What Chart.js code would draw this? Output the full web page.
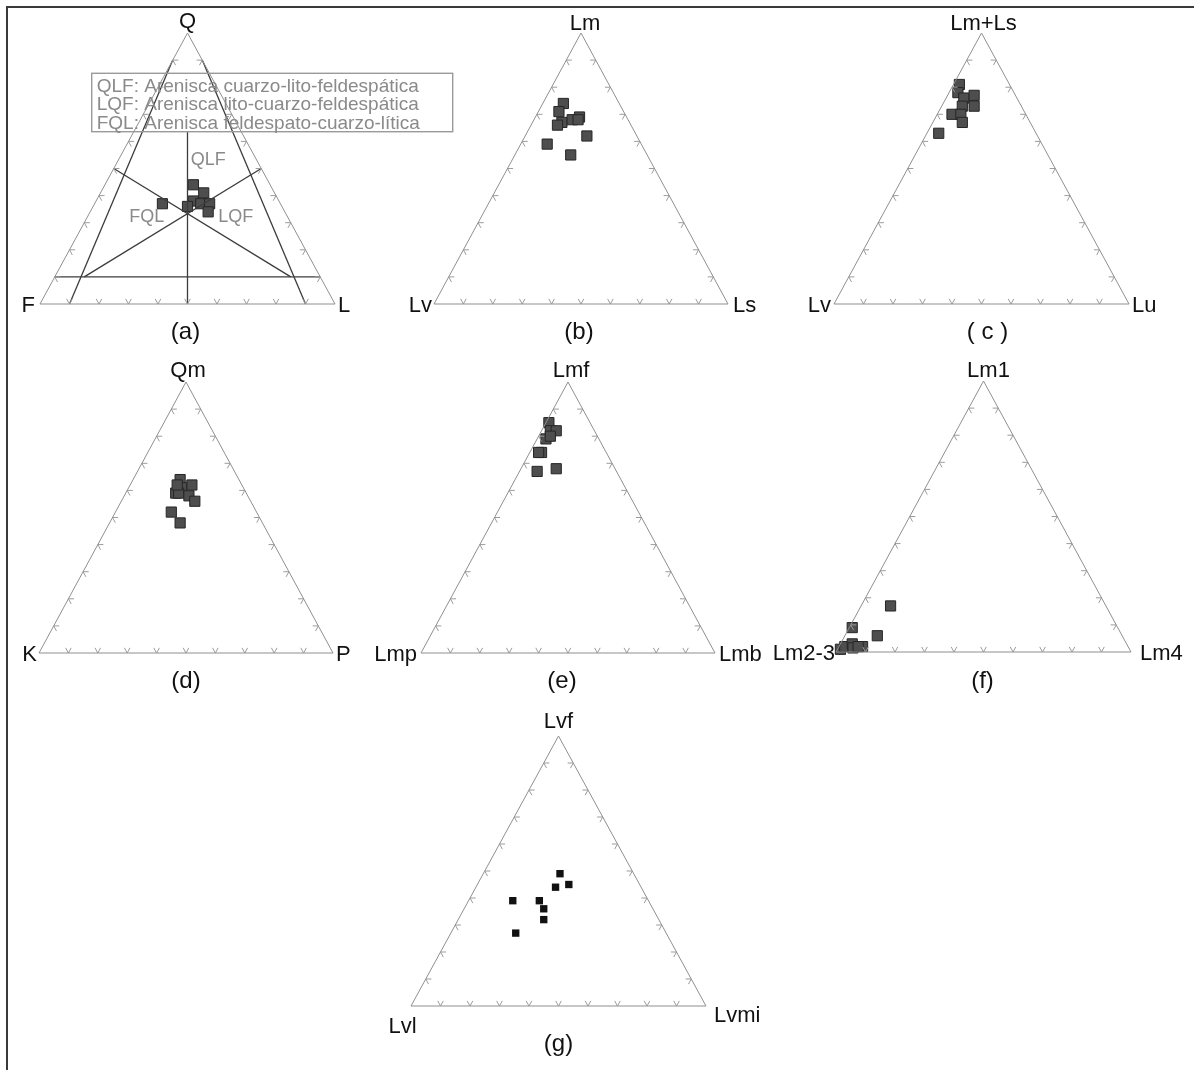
<!DOCTYPE html>
<html>
<head>
<meta charset="utf-8">
<title>Diagramas ternarios de composición</title>
<script src="https://cdn.jsdelivr.net/npm/chart.js@4.4.1/dist/chart.umd.min.js"></script>
<style>
  html, body { margin: 0; padding: 0; background: #fff; width: 1194px; height: 1070px; overflow: hidden; position: relative; }
  .frame { position: absolute; left: 6px; top: 6px; width: 1300px; height: 1200px; border: 2px solid #3a3a3a; }
  canvas { position: absolute; }
</style>
</head>
<body>
<div class="frame"></div>
<script>
// ---- Composiciones (%) : [vértice superior, vértice izquierdo, vértice derecho] ----

// (a) Q - F - L
const qflQ = [44, 41, 38, 36, 37, 37, 34, 37];
const qflF = [26, 24, 29, 32, 27, 24, 26, 40];
const qflL = [30, 35, 33, 32, 36, 39, 40, 23];

// (b) Lm - Lv - Ls
const lmLm = [74, 71, 67, 66, 68, 69, 68, 62, 59, 55];
const lmLv = [19, 22, 23, 25, 19, 16, 17, 17, 32, 26];
const lmLs = [7, 7, 10, 9, 13, 15, 15, 21, 9, 19];

// (c) Lm+Ls - Lv - Lu
const luLmLs = [81, 78, 76, 77, 73, 73, 70, 70, 67, 63];
const luLv   = [17, 19, 18, 14, 20, 16, 25, 22, 23, 33];
const luLu   = [2, 3, 6, 9, 7, 11, 5, 8, 10, 4];

// (d) Qm - K - P
const qmQm = [64, 62, 61, 59, 59, 58, 56, 52, 48, 62];
const qmK  = [20, 17, 21, 24, 23, 20, 19, 29, 28, 22];
const qmP  = [16, 21, 18, 17, 18, 22, 25, 19, 24, 16];

// (e) Lmf - Lmp - Lmb
const lmfLmf = [85, 82, 82, 79, 80, 74, 67, 68, 74];
const lmfLmp = [14, 15, 13, 18, 16, 22, 27, 20, 23];
const lmfLmb = [1, 3, 5, 3, 4, 4, 6, 12, 3];

// (f) Lm1 - Lm2-3 - Lm4
const lm1Lm1  = [17, 9, 6, 1, 2, 3, 1.5, 2, 2];
const lm1Lm23 = [73, 90, 83, 98, 96, 93, 93.5, 90, 91.5];
const lm1Lm4  = [10, 1, 11, 1, 2, 4, 5, 8, 6.5];

// (g) Lvf - Lvl - Lvmi
const lvfLvf  = [49, 45, 44, 39, 39, 36, 32, 27];
const lvfLvl  = [25, 24, 29, 46, 37, 37, 39, 51];
const lvfLvmi = [26, 31, 27, 15, 24, 27, 29, 22];

// Divisiones de los lados (%)
const sideTicks = [10, 20, 30, 40, 50, 60, 70, 80, 90];

// Campos de clasificación QFL: segmentos [Q, F, L] -> [Q, F, L]
const fieldLines = [
  [[90, 10, 0], [0, 90, 10]],
  [[90, 0, 10], [0, 10, 90]],
  [[10, 90, 0], [10, 0, 90]],
  [[63.5, 18.25, 18.25], [0, 50, 50]],
  [[50, 50, 0], [10, 10, 80]],
  [[50, 0, 50], [10, 80, 10]]
];
const fieldNames = ['QLF', 'FQL', 'LQF'];
const fieldNamePos = [[53, 16.5, 30.5], [32.1, 47.8, 20.1], [32.1, 17.6, 50.3]];
const legendLines = [
  'QLF: Arenisca cuarzo-lito-feldespática',
  'LQF: Arenisca lito-cuarzo-feldespática',
  'FQL: Arenisca feldespato-cuarzo-lítica'
];

// ---- Utilidades ----
const FONT = '"Liberation Sans", Arial, Helvetica, sans-serif';

// composición (sup, izq, der) -> coordenadas cartesianas del triángulo unidad
function toXY(t, l, r) {
  const s = t + l + r;
  return { x: (r + t / 2) / s, y: t / s };
}
function pointsOf(top, left, right) {
  return top.map((t, i) => toXY(t, left[i], right[i]));
}
function outline() {
  return [toXY(0, 100, 0), toXY(0, 0, 100), toXY(100, 0, 0), toXY(0, 100, 0)];
}
// marcas de división: dos trazos cortos de las líneas de la red que entran al triángulo
function tickMarks() {
  const d = 1.9, out = [], gap = { x: null, y: null };
  sideTicks.forEach(k => {
    out.push(toXY(d, 100 - k, k - d), toXY(0, 100 - k, k), toXY(d, 100 - k - d, k), gap);
    out.push(toXY(k, 100 - k - d, d), toXY(k, 100 - k, 0), toXY(k - d, 100 - k, d), gap);
    out.push(toXY(k, d, 100 - k - d), toXY(k, 0, 100 - k), toXY(k - d, d, 100 - k), gap);
  });
  return out;
}

// Textos y recuadros de cada diagrama, anclados a sus escalas
const panelText = new Map();

const ternaryText = {
  id: 'ternaryText',
  afterDatasetsDraw(chart) {
    const spec = panelText.get(chart.canvas);
    if (!spec) return;
    const { ctx, chartArea } = chart;
    const xs = chart.scales.x, ys = chart.scales.y;
    ctx.save();
    spec.boxes.forEach(b => {
      ctx.strokeStyle = b.color;
      ctx.lineWidth = b.width;
      ctx.strokeRect(chartArea.left + b.dx, chartArea.top + b.dy, b.w, b.h);
    });
    spec.items.forEach(it => {
      let px, py;
      if (it.at) {
        const p = toXY(it.at[0], it.at[1], it.at[2]);
        px = xs.getPixelForValue(p.x);
        py = ys.getPixelForValue(p.y);
      } else {
        px = chartArea.left;
        py = chartArea.top;
      }
      ctx.font = it.font;
      ctx.fillStyle = it.color;
      ctx.textAlign = it.align || 'center';
      ctx.textBaseline = it.baseline || 'alphabetic';
      ctx.fillText(it.text, px + (it.dx || 0), py + (it.dy || 0));
    });
    ctx.restore();
  }
};
Chart.register(ternaryText);

const VERTEX_FONT = '22px ' + FONT;
const TAG_FONT = '24px ' + FONT;
const GREY_TEXT = '#8a8a8a';

function vertexItems(names, tag, off) {
  return [
    { text: names[0], at: [100, 0, 0], dx: off.top[0], dy: off.top[1], font: VERTEX_FONT, color: '#111', align: 'center' },
    { text: names[1], at: [0, 100, 0], dx: off.left[0], dy: off.left[1], font: VERTEX_FONT, color: '#111', align: off.left[2] || 'right' },
    { text: names[2], at: [0, 0, 100], dx: off.right[0], dy: off.right[1], font: VERTEX_FONT, color: '#111', align: 'left' },
    { text: tag, at: [0, 50, 50], dx: off.tag[0], dy: off.tag[1], font: TAG_FONT, color: '#111', align: 'center' }
  ];
}

function makePanel(p) {
  const pad = p.pad;
  const W = p.box.w + pad.l + pad.r, H = p.box.h + pad.t + pad.b;
  const c = document.createElement('canvas');
  c.width = W; c.height = H;
  c.style.width = W + 'px'; c.style.height = H + 'px';
  c.style.left = (p.box.left - pad.l) + 'px';
  c.style.top = (p.box.top - pad.t) + 'px';
  document.body.appendChild(c);
  panelText.set(c, { items: p.items, boxes: p.boxes || [] });

  const datasets = [
    { data: outline(), showLine: true, borderColor: '#8f8f8f', borderWidth: 1, pointRadius: 0, clip: false },
    { data: tickMarks(), showLine: true, spanGaps: false, borderColor: '#9c9c9c', borderWidth: 1, pointRadius: 0, clip: false }
  ];
  (p.lines || []).forEach(seg => {
    datasets.push({ data: seg.map(q => toXY(q[0], q[1], q[2])), showLine: true, borderColor: '#3c3c3c', borderWidth: 1.3, pointRadius: 0, clip: false });
  });
  datasets.push({
    data: p.points, showLine: false, pointStyle: 'rect',
    pointRadius: p.marker.r, pointBackgroundColor: p.marker.fill,
    pointBorderColor: p.marker.stroke, pointBorderWidth: p.marker.bw, clip: false
  });

  new Chart(c, {
    type: 'scatter',
    data: { datasets },
    options: {
      responsive: false,
      animation: false,
      devicePixelRatio: 1,
      events: [],
      layout: { padding: { left: pad.l, right: pad.r, top: pad.t, bottom: pad.b } },
      scales: {
        x: { type: 'linear', min: 0, max: 1, display: false },
        y: { type: 'linear', min: 0, max: 1, display: false }
      },
      plugins: {
        legend: { display: false },
        tooltip: { enabled: false }
      }
    }
  });
}

const PAD = { l: 90, r: 90, t: 45, b: 55 };
const GREY_MARK = { r: 7.2, fill: '#4e4e4e', stroke: '#262626', bw: 1 };
const BLACK_MARK = { r: 5.2, fill: '#111111', stroke: '#111111', bw: 0 };

const legendItems = legendLines.map((t, i) => ({
  text: t, dx: 56.7, dy: 59.3 + i * 18.1, font: '19px ' + FONT, color: GREY_TEXT, align: 'left'
}));
const fieldItems = fieldNames.map((t, i) => ({
  text: t, at: fieldNamePos[i], font: '18px ' + FONT, color: GREY_TEXT, align: 'center', baseline: 'middle'
}));

const panels = [
  {
    box: { left: 40, top: 33, w: 295, h: 271 }, pad: { l: 60, r: 130, t: 45, b: 55 },
    points: pointsOf(qflQ, qflF, qflL), marker: GREY_MARK, lines: fieldLines,
    boxes: [{ dx: 51.7, dy: 40.3, w: 361, h: 58.4, color: '#9a9a9a', width: 1.4 }],
    items: vertexItems(['Q', 'F', 'L'], '(a)', { top: [0, -4.8], left: [-5, 8], right: [3, 8], tag: [-2, 35] })
      .concat(fieldItems, legendItems)
  },
  {
    box: { left: 434, top: 33, w: 294, h: 271 }, pad: PAD,
    points: pointsOf(lmLm, lmLv, lmLs), marker: GREY_MARK,
    items: vertexItems(['Lm', 'Lv', 'Ls'], '(b)', { top: [4, -3.5], left: [-2, 8], right: [5, 8], tag: [-2, 35] })
  },
  {
    box: { left: 834, top: 33, w: 295, h: 271 }, pad: PAD,
    points: pointsOf(luLmLs, luLv, luLu), marker: GREY_MARK,
    items: vertexItems(['Lm+Ls', 'Lv', 'Lu'], '( c )', { top: [2, -3.5], left: [-3, 8], right: [3, 8], tag: [6, 35] })
  },
  {
    box: { left: 39, top: 382, w: 294, h: 271 }, pad: PAD,
    points: pointsOf(qmQm, qmK, qmP), marker: GREY_MARK,
    items: vertexItems(['Qm', 'K', 'P'], '(d)', { top: [2, -5.5], left: [-2, 8], right: [3, 8], tag: [0, 35] })
  },
  {
    box: { left: 421, top: 382, w: 294, h: 271 }, pad: PAD,
    points: pointsOf(lmfLmf, lmfLmp, lmfLmb), marker: GREY_MARK,
    items: vertexItems(['Lmf', 'Lmp', 'Lmb'], '(e)', { top: [3, -5.5], left: [-4, 8], right: [4, 8], tag: [-6, 35] })
  },
  {
    box: { left: 836, top: 381, w: 295, h: 271 }, pad: PAD,
    points: pointsOf(lm1Lm1, lm1Lm23, lm1Lm4), marker: GREY_MARK,
    items: vertexItems(['Lm1', 'Lm2-3', 'Lm4'], '(f)', { top: [5, -4.5], left: [-1, 8], right: [9, 8], tag: [-1, 36] })
  },
  {
    box: { left: 411, top: 736, w: 295, h: 270 }, pad: PAD,
    points: pointsOf(lvfLvf, lvfLvl, lvfLvmi), marker: BLACK_MARK,
    items: vertexItems(['Lvf', 'Lvl', 'Lvmi'], '(g)', { top: [0, -8.4], left: [-8.5, 27, 'center'], right: [8, 16], tag: [0, 45] })
  }
];

panels.forEach(makePanel);
</script>
</body>
</html>
